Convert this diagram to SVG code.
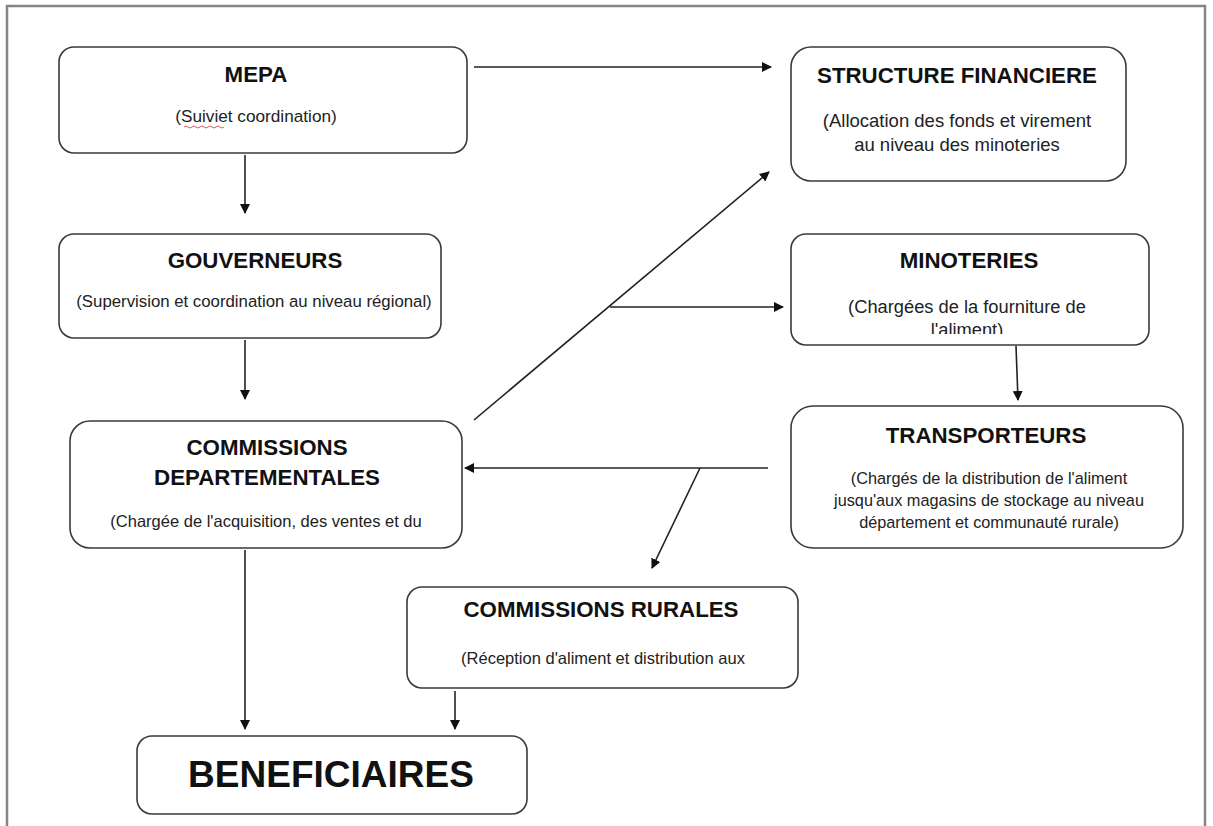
<svg xmlns="http://www.w3.org/2000/svg" width="1213" height="826" viewBox="0 0 1213 826">
<style>
.box{fill:#fff;stroke:#3a3a3a;stroke-width:1.6}
.t{font-family:"Liberation Sans",Arial,sans-serif;font-weight:bold;font-size:22.3px;fill:#111;text-anchor:middle}
.s{font-family:"Liberation Sans",Arial,sans-serif;font-size:16.5px;fill:#222;text-anchor:middle}
.c{stroke:#222;stroke-width:1.6;fill:none}
</style>
<defs>
<marker id="ah" viewBox="0 0 10 10" refX="9" refY="5" markerWidth="10" markerHeight="10" markerUnits="userSpaceOnUse" orient="auto">
<path d="M0,0 L10,5 L0,10 z" fill="#111"/>
</marker>
<clipPath id="cm"><rect x="792" y="235" width="356" height="99"/></clipPath>
<clipPath id="cr"><rect x="408" y="588" width="389" height="86"/></clipPath>
</defs>
<rect x="0" y="0" width="1213" height="826" fill="#fff"/>
<path d="M7,826 L7,6 L1205,6 L1205,826" fill="none" stroke="#858585" stroke-width="2.5"/>

<g id="mepa">
<rect class="box" x="59" y="47" width="408" height="106" rx="15"/>
<text class="t" x="256" y="82">MEPA</text>
<text class="s" x="256" y="122" style="font-size:17.2px">(Suiviet coordination)</text>
<path d="M184,127 q2,-2 4,0 t4,0 t4,0 t4,0 t4,0 t4,0 t4,0 t4,0 t4,0 t4,0" fill="none" stroke="#d03030" stroke-width="0.8"/>
</g>

<g id="structure">
<rect class="box" x="791" y="47" width="335" height="134" rx="20"/>
<text class="t" x="957" y="83">STRUCTURE FINANCIERE</text>
<text class="s" x="957" y="127" style="font-size:18.5px">(Allocation des fonds et virement</text>
<text class="s" x="957" y="151" style="font-size:18.5px">au niveau des minoteries</text>
</g>

<g id="gouverneurs">
<rect class="box" x="59" y="234" width="382" height="104" rx="15"/>
<text class="t" x="255" y="268">GOUVERNEURS</text>
<text class="s" x="254" y="307" style="font-size:16.8px">(Supervision et coordination au niveau régional)</text>
</g>

<g id="minoteries">
<rect class="box" x="791" y="234" width="358" height="111" rx="15"/>
<text class="t" x="969" y="268">MINOTERIES</text>
<text class="s" x="967" y="313" style="font-size:18.3px">(Chargées de la fourniture de</text>
<text class="s" x="967" y="336" style="font-size:18.3px" clip-path="url(#cm)">l'aliment)</text>
</g>

<g id="transporteurs">
<rect class="box" x="791" y="406" width="392" height="142" rx="22"/>
<text class="t" x="986" y="443">TRANSPORTEURS</text>
<text class="s" x="989" y="484" style="font-size:16.3px">(Chargés de la distribution de l'aliment</text>
<text class="s" x="989" y="506" style="font-size:16.3px">jusqu'aux magasins de stockage au niveau</text>
<text class="s" x="989" y="528" style="font-size:16.3px">département et communauté rurale)</text>
</g>

<g id="comdep">
<rect class="box" x="70" y="421" width="392" height="127" rx="20"/>
<text class="t" x="267" y="455">COMMISSIONS</text>
<text class="t" x="267" y="485">DEPARTEMENTALES</text>
<text class="s" x="266" y="527">(Chargée de l'acquisition, des ventes et du</text>
</g>

<g id="comrur">
<rect class="box" x="407" y="587" width="391" height="101" rx="15"/>
<text class="t" x="601" y="617">COMMISSIONS RURALES</text>
<text class="s" x="603" y="664">(Réception d'aliment et distribution aux</text>
<text class="s" x="603" y="687" clip-path="url(#cr)">éleveurs)</text>
</g>

<g id="beneficiaires">
<rect class="box" x="137" y="736" width="390" height="78" rx="15"/>
<text class="t" x="331" y="787" style="font-size:37px">BENEFICIAIRES</text>
</g>

<g id="connectors">
<line class="c" x1="474" y1="67" x2="771" y2="67" marker-end="url(#ah)"/>
<line class="c" x1="245" y1="155" x2="245" y2="213" marker-end="url(#ah)"/>
<line class="c" x1="245" y1="340" x2="245" y2="399" marker-end="url(#ah)"/>
<line class="c" x1="474" y1="420" x2="769" y2="172" marker-end="url(#ah)"/>
<line class="c" x1="610" y1="307" x2="783" y2="307" marker-end="url(#ah)"/>
<line class="c" x1="1016" y1="346" x2="1018" y2="400" marker-end="url(#ah)"/>
<line class="c" x1="768" y1="468" x2="465" y2="468" marker-end="url(#ah)"/>
<line class="c" x1="700" y1="468" x2="652" y2="568" marker-end="url(#ah)"/>
<line class="c" x1="245" y1="550" x2="245" y2="729" marker-end="url(#ah)"/>
<line class="c" x1="455" y1="691" x2="455" y2="729" marker-end="url(#ah)"/>
</g>
</svg>
